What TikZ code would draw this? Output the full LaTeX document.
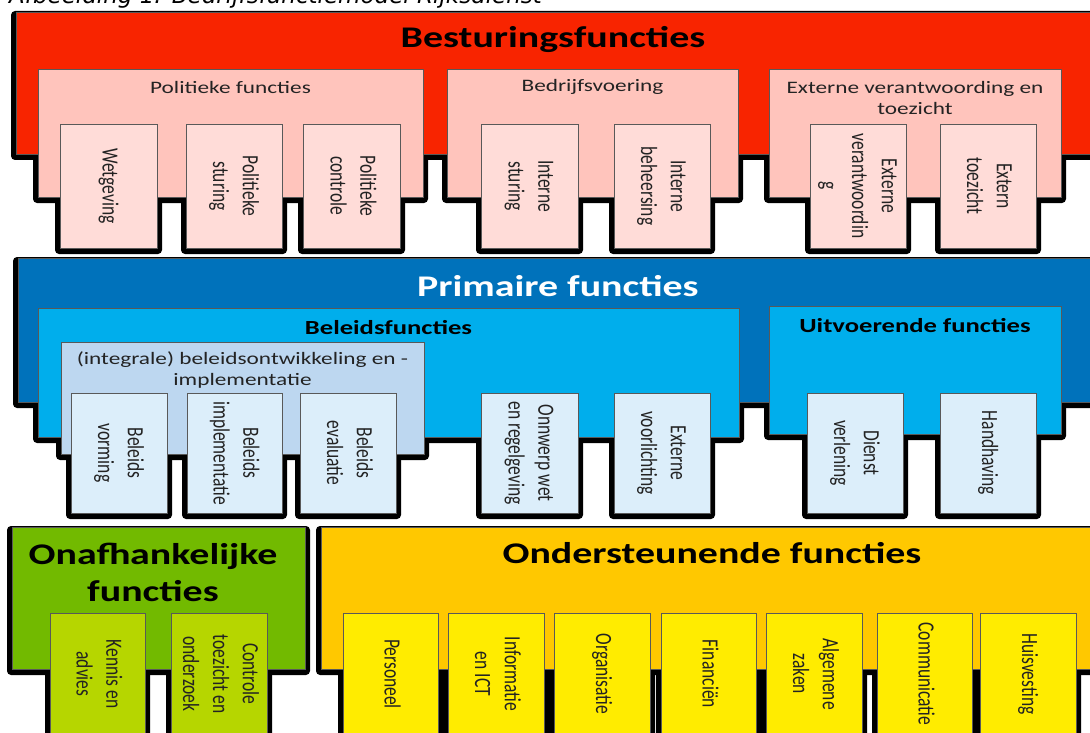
\documentclass[tikz,border=0pt]{standalone}
\usepackage{fontspec}
\usepackage{graphicx}
\setmainfont{Carlito}
\newfontfamily\hfont{Carlito}[FakeStretch=1.33]
\newfontfamily\capfont{DejaVu Sans}
\pgfdeclarelayer{paper}
\pgfdeclarelayer{bg}
\pgfsetlayers{paper,bg,main}
\definecolor{cRed}{RGB}{248,36,0}
\definecolor{cPink}{RGB}{255,196,188}
\definecolor{cPinkL}{RGB}{255,220,216}
\definecolor{cBlue}{RGB}{0,114,187}
\definecolor{cCyan}{RGB}{0,174,236}
\definecolor{cLBlue}{RGB}{189,215,240}
\definecolor{cVLBlue}{RGB}{220,238,250}
\definecolor{cGreen}{RGB}{114,186,0}
\definecolor{cGreenL}{RGB}{182,214,0}
\definecolor{cOrange}{RGB}{255,200,0}
\definecolor{cYellow}{RGB}{255,236,0}
\definecolor{cTxt}{RGB}{35,35,35}
\tikzset{
  box/.style={draw=black!65, line width=0.7pt, inner sep=0pt, outer sep=0pt},
  shad/.style={fill=black, rounded corners=4pt},
  rlab/.style={rotate=-90, inner sep=0pt, text=cTxt, font=\fontsize{17.5}{22.5}\selectfont},
  hlab/.style={inner sep=0pt, align=center, text=cTxt, font=\hfont\fontsize{17.5}{21}\selectfont},
  blab/.style={inner sep=0pt, align=center, text=black, font=\hfont\bfseries\fontsize{20}{24}\selectfont},
  ttl/.style={inner sep=0pt, align=center, text=black, font=\hfont\bfseries\fontsize{30}{37}\selectfont},
}
\newcommand\mkbox[6]{%
  \node[box,#6,anchor=north west,minimum width={(#4-#2)*1pt},minimum height={(#5-#3)*1pt}] (#1) at (#2,#3) {};%
  \begin{pgfonlayer}{bg}\fill[shad] ([shift={(-5pt,1pt)}]#1.north west) rectangle ([shift={(5pt,-6pt)}]#1.south east);\end{pgfonlayer}}
\newcommand\rlabel[2]{\node[rlab] (#1t) at (#1.center) {\scalebox{1}[1.33]{\begin{tabular}{@{}c@{}}#2\end{tabular}}};}
\begin{document}
\begin{tikzpicture}[x=1pt,y=-1pt]
\useasboundingbox (0,0) rectangle (1090,733);
\clip (0,0) rectangle (1090,733);
\begin{pgfonlayer}{paper}\fill[white] (0,0) rectangle (1090,733);\end{pgfonlayer}
% caption
\node[anchor=base west, inner sep=0pt, font=\capfont\itshape\fontsize{23}{27}\selectfont] (cap) at (9,4) {Afbeelding 1: Bedrijfsfunctiemodel Rijksdienst};
% ---------- Besturingsfuncties
\mkbox{R}{16}{12}{1100}{154}{fill=cRed}
\node[ttl] (Rt) at (553,39) {Besturingsfuncties};
\mkbox{P1}{38}{69}{423}{197}{fill=cPink}
\mkbox{P2}{447}{69}{738}{197}{fill=cPink}
\mkbox{P3}{769}{69}{1061}{197}{fill=cPink}
\node[hlab] (P1t) at (230.5,87) {Politieke functies};
\node[hlab] (P2t) at (592.5,87) {Bedrijfsvoering};
\node[hlab] (P3t) at (915,97.5) {Externe verantwoording en\\toezicht};
\mkbox{W}{60}{124}{157}{248}{fill=cPinkL}
\mkbox{PS}{186}{124}{282}{248}{fill=cPinkL}
\mkbox{PC}{303}{124}{400}{248}{fill=cPinkL}
\mkbox{IS}{481}{124}{578}{248}{fill=cPinkL}
\mkbox{IB}{614}{124}{710}{248}{fill=cPinkL}
\mkbox{EV}{810}{124}{906}{248}{fill=cPinkL}
\mkbox{ET}{940}{124}{1036}{248}{fill=cPinkL}
\rlabel{W}{Wetgeving}
\rlabel{PS}{Politieke\\sturing}
\rlabel{PC}{Politieke\\controle}
\rlabel{IS}{Interne\\sturing}
\rlabel{IB}{Interne\\beheersing}
\rlabel{EV}{Externe\\verantwoordin\\g}
\rlabel{ET}{Extern\\toezicht}
% ---------- Primaire functies
\mkbox{B}{18}{258}{1100}{402}{fill=cBlue}
\node[ttl, text=white] (Bt) at (558,286) {Primaire functies};
\mkbox{BF}{38}{308}{739}{437}{fill=cCyan}
\mkbox{UF}{769}{306}{1061}{434}{fill=cCyan}
\node[blab] (BFt) at (388.5,328) {Beleidsfuncties};
\node[blab] (UFt) at (915,326) {Uitvoerende functies};
\mkbox{IN}{61}{342}{424}{454}{fill=cLBlue}
\node[hlab] (INt) at (242.5,370) {(integrale) beleidsontwikkeling en -\\implementatie};
\mkbox{BV}{71}{393}{167}{513}{fill=cVLBlue}
\mkbox{BI}{187}{393}{282}{513}{fill=cVLBlue}
\mkbox{BE}{300}{393}{396}{513}{fill=cVLBlue}
\mkbox{OW}{481}{393}{578}{513}{fill=cVLBlue}
\mkbox{EX}{614}{393}{710}{513}{fill=cVLBlue}
\mkbox{DV}{807}{393}{903}{513}{fill=cVLBlue}
\mkbox{HH}{940}{393}{1036}{513}{fill=cVLBlue}
\rlabel{BV}{Beleids\\vorming}
\rlabel{BI}{Beleids\\implementatie}
\rlabel{BE}{Beleids\\evaluatie}
\rlabel{OW}{Onnwerp wet\\en regelgeving}
\rlabel{EX}{Externe\\voorlichting}
\rlabel{DV}{Dienst\\verlening}
\rlabel{HH}{Handhaving}
% ---------- Onafhankelijke functies
\mkbox{G}{12}{527}{305}{669}{fill=cGreen}
\node[ttl] (Gt) at (153,572) {Onafhankelijke\\functies};
\mkbox{KA}{50}{613}{145}{735}{fill=cGreenL}
\mkbox{CT}{171}{613}{267}{735}{fill=cGreenL}
\rlabel{KA}{Kennis en\\advies}
\rlabel{CT}{Controle\\toezicht en\\onderzoek}
% ---------- Ondersteunende functies
\mkbox{O}{321}{527}{1100}{669}{fill=cOrange}
\node[ttl] (Ot) at (712,553) {Ondersteunende functies};
\mkbox{PE}{343}{613}{438}{735}{fill=cYellow}
\mkbox{IC}{448}{613}{544}{735}{fill=cYellow}
\mkbox{OR}{554}{613}{650}{735}{fill=cYellow}
\mkbox{FI}{661}{613}{756}{735}{fill=cYellow}
\mkbox{AZ}{766}{613}{862}{735}{fill=cYellow}
\mkbox{CO}{877}{613}{972}{735}{fill=cYellow}
\mkbox{HU}{980}{613}{1076}{735}{fill=cYellow}
\rlabel{PE}{Personeel}
\rlabel{IC}{Informatie\\en ICT}
\rlabel{OR}{Organisatie}
\rlabel{FI}{Financiën}
\rlabel{AZ}{Algemene\\zaken}
\rlabel{CO}{Communicatie}
\rlabel{HU}{Huisvesting}
\end{tikzpicture}
\end{document}
